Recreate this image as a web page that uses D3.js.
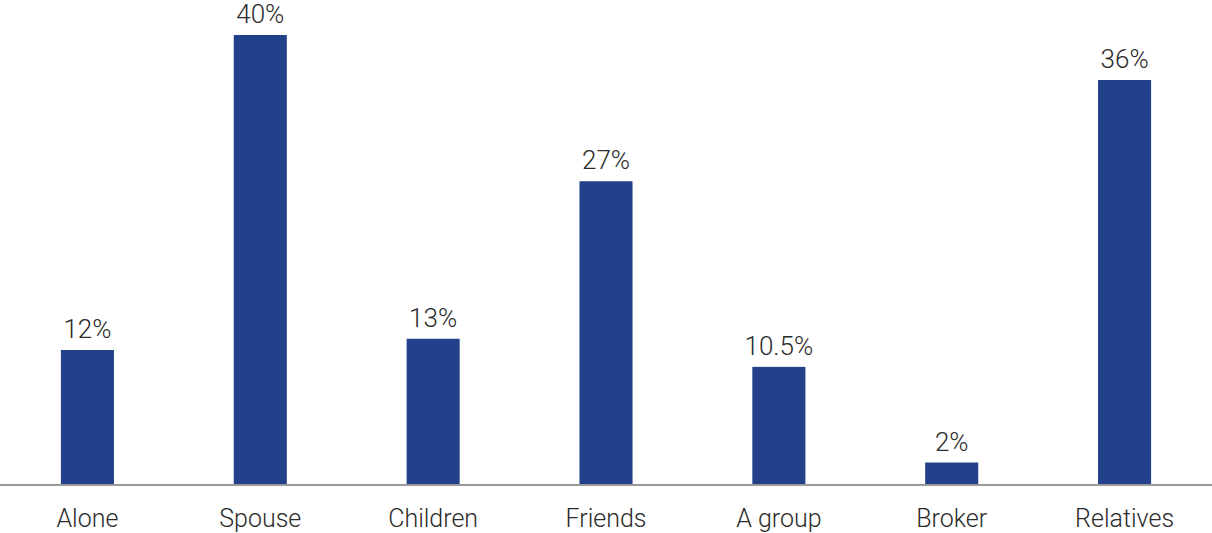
<!DOCTYPE html>
<html>
<head>
<meta charset="utf-8">
<script src="https://cdn.jsdelivr.net/npm/d3@7"></script>
<style>
  html, body { margin: 0; padding: 0; background: #fff; }
  svg { display: block; }
  text { font-family: "Roboto", "Liberation Sans", sans-serif; font-weight: 300; fill: #2b2b2b; }
</style>
</head>
<body>
<svg id="chart" width="1212" height="533"></svg>
<script>
// Who the trip was made with (share of respondents, %)
const categories = ["Alone", "Spouse", "Children", "Friends", "A group", "Broker", "Relatives"];
const shares = [12, 40, 13, 27, 10.5, 2, 36];
const shareLabels = ["12%", "40%", "13%", "27%", "10.5%", "2%", "36%"];

const chartWidth = 1212;
const baseY = 485, topY = 35;

const svg = d3.select("#chart");

const x = d3.scaleBand()
  .domain(categories)
  .range([1, 1211])
  .paddingInner(0.693)
  .paddingOuter(0.3465);

const y = d3.scaleLinear()
  .domain([0, 40])
  .range([baseY, topY]);

// bars
svg.append("g")
  .selectAll("rect")
  .data(categories)
  .join("rect")
  .attr("x", d => x(d))
  .attr("width", x.bandwidth())
  .attr("y", (d, i) => y(shares[i]))
  .attr("height", (d, i) => y(0) - y(shares[i]) + 1)
  .attr("fill", "#22418a");

// value labels
svg.append("g")
  .selectAll("text")
  .data(categories)
  .join("text")
  .attr("x", d => x(d) + x.bandwidth() / 2)
  .attr("y", (d, i) => y(shares[i]) - 12)
  .attr("text-anchor", "middle")
  .style("font-size", "26px")
  .text((d, i) => shareLabels[i]);

// category axis
const axis = svg.append("g")
  .attr("transform", `translate(0,${baseY})`)
  .call(d3.axisBottom(x).tickSize(0).tickPadding(24));
axis.select(".domain").remove();
axis.selectAll("text")
  .style("font-size", "25px")
  .attr("fill", "#2b2b2b");

svg.append("line")
  .attr("x1", 0).attr("x2", chartWidth)
  .attr("y1", baseY).attr("y2", baseY)
  .attr("stroke", "#9a9a9a")
  .attr("stroke-width", 2);
</script>
</body>
</html>
